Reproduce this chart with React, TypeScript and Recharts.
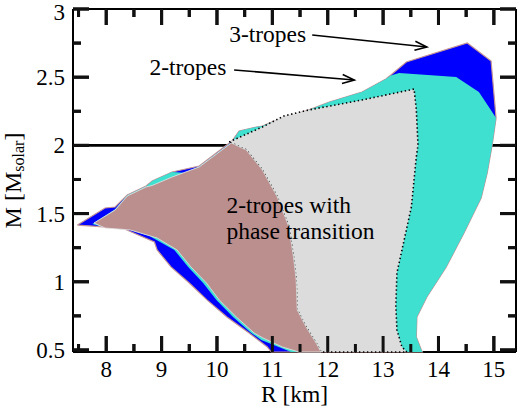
import React from 'react';
import { ComposedChart, Scatter, XAxis, YAxis, ReferenceLine, ReferenceDot } from 'recharts';

type Pt = { r: number; m: number };

// Outer envelope of the 3-tropes region (clockwise from the left tip)
const threeTropes: Pt[] = [
  { r: 7.48, m: 1.416 }, { r: 7.98, m: 1.541 }, { r: 8.16, m: 1.548 }, { r: 8.38, m: 1.637 },
  { r: 8.72, m: 1.702 }, { r: 8.83, m: 1.739 }, { r: 9.19, m: 1.805 }, { r: 9.68, m: 1.849 },
  { r: 10.27, m: 2.032 }, { r: 10.4, m: 2.106 }, { r: 10.71, m: 2.135 }, { r: 10.82, m: 2.142 },
  { r: 11.0, m: 2.172 }, { r: 11.66, m: 2.26 }, { r: 12.03, m: 2.318 }, { r: 12.62, m: 2.391 },
  { r: 13.05, m: 2.487 }, { r: 13.14, m: 2.516 }, { r: 13.42, m: 2.611 }, { r: 14.52, m: 2.751 },
  { r: 14.95, m: 2.619 }, { r: 15.04, m: 2.201 }, { r: 14.97, m: 2.003 }, { r: 14.88, m: 1.798 },
  { r: 14.77, m: 1.614 }, { r: 14.46, m: 1.358 }, { r: 14.14, m: 1.108 }, { r: 13.79, m: 0.889 },
  { r: 13.61, m: 0.742 }, { r: 13.6, m: 0.595 }, { r: 13.69, m: 0.5 }, { r: 13.71, m: 0.485 },
  { r: 10.98, m: 0.485 }, { r: 10.91, m: 0.522 }, { r: 10.58, m: 0.625 }, { r: 10.18, m: 0.742 },
  { r: 9.82, m: 0.867 }, { r: 9.5, m: 0.991 }, { r: 9.17, m: 1.109 }, { r: 8.92, m: 1.233 },
  { r: 8.87, m: 1.292 }, { r: 8.29, m: 1.394 }, { r: 7.48, m: 1.416 },
];

// 2-tropes region
const twoTropes: Pt[] = [
  { r: 7.75, m: 1.424 }, { r: 8.16, m: 1.532 }, { r: 8.38, m: 1.634 }, { r: 8.72, m: 1.7 },
  { r: 8.83, m: 1.739 }, { r: 9.19, m: 1.805 }, { r: 9.4, m: 1.8 }, { r: 9.68, m: 1.846 },
  { r: 10.27, m: 2.025 }, { r: 10.4, m: 2.106 }, { r: 10.71, m: 2.135 }, { r: 10.82, m: 2.142 },
  { r: 11.0, m: 2.172 }, { r: 11.66, m: 2.26 }, { r: 12.03, m: 2.318 }, { r: 12.62, m: 2.391 },
  { r: 13.05, m: 2.487 }, { r: 13.14, m: 2.512 }, { r: 13.29, m: 2.531 }, { r: 14.32, m: 2.501 },
  { r: 14.73, m: 2.391 }, { r: 14.91, m: 2.282 }, { r: 15.04, m: 2.201 }, { r: 14.97, m: 2.003 },
  { r: 14.88, m: 1.798 }, { r: 14.77, m: 1.614 }, { r: 14.46, m: 1.358 }, { r: 14.14, m: 1.108 },
  { r: 13.79, m: 0.889 }, { r: 13.61, m: 0.742 }, { r: 13.6, m: 0.595 }, { r: 13.69, m: 0.5 },
  { r: 13.71, m: 0.485 }, { r: 11.34, m: 0.485 }, { r: 10.8, m: 0.573 }, { r: 10.62, m: 0.625 },
  { r: 10.29, m: 0.742 }, { r: 9.99, m: 0.867 }, { r: 9.75, m: 0.991 }, { r: 9.48, m: 1.109 },
  { r: 9.23, m: 1.233 }, { r: 8.78, m: 1.336 }, { r: 8.38, m: 1.387 }, { r: 7.95, m: 1.402 },
  { r: 7.75, m: 1.424 },
];

// 2-tropes with phase transition (grey, dotted outline)
const phaseGrey: Pt[] = [
  { r: 10.22, m: 2.025 }, { r: 10.82, m: 2.135 }, { r: 11.21, m: 2.216 }, { r: 11.66, m: 2.26 },
  { r: 12.62, m: 2.333 }, { r: 13.56, m: 2.413 }, { r: 13.6, m: 2.26 }, { r: 13.63, m: 2.003 },
  { r: 13.6, m: 1.915 }, { r: 13.51, m: 1.548 }, { r: 13.38, m: 1.306 }, { r: 13.25, m: 1.065 },
  { r: 13.23, m: 0.815 }, { r: 13.25, m: 0.647 }, { r: 13.34, m: 0.522 }, { r: 13.43, m: 0.485 },
  { r: 11.88, m: 0.485 }, { r: 11.79, m: 0.551 }, { r: 11.61, m: 0.669 }, { r: 11.45, m: 0.793 },
  { r: 11.43, m: 1.013 }, { r: 11.39, m: 1.16 }, { r: 11.3, m: 1.402 }, { r: 11.09, m: 1.622 },
  { r: 10.82, m: 1.82 }, { r: 10.53, m: 1.966 }, { r: 10.26, m: 2.018 }, { r: 10.22, m: 2.025 },
];

// 2-tropes with phase transition (brown)
const phaseBrown: Pt[] = [
  { r: 7.78, m: 1.431 }, { r: 8.16, m: 1.526 }, { r: 8.38, m: 1.629 }, { r: 8.72, m: 1.695 },
  { r: 8.83, m: 1.706 }, { r: 9.19, m: 1.768 }, { r: 9.68, m: 1.842 }, { r: 10.26, m: 2.018 },
  { r: 10.53, m: 1.966 }, { r: 10.82, m: 1.82 }, { r: 11.09, m: 1.622 }, { r: 11.3, m: 1.402 },
  { r: 11.39, m: 1.16 }, { r: 11.43, m: 1.013 }, { r: 11.45, m: 0.793 }, { r: 11.61, m: 0.669 },
  { r: 11.79, m: 0.551 }, { r: 11.88, m: 0.485 }, { r: 11.48, m: 0.485 }, { r: 11.18, m: 0.522 },
  { r: 10.83, m: 0.588 }, { r: 10.67, m: 0.625 }, { r: 10.35, m: 0.742 }, { r: 10.04, m: 0.867 },
  { r: 9.81, m: 0.991 }, { r: 9.53, m: 1.109 }, { r: 9.28, m: 1.233 }, { r: 8.92, m: 1.321 },
  { r: 8.43, m: 1.38 }, { r: 7.98, m: 1.394 }, { r: 7.78, m: 1.431 },
];

const xTicks = [7.5, 8, 8.5, 9, 9.5, 10, 10.5, 11, 11.5, 12, 12.5, 13, 13.5, 14, 14.5, 15];
const yTicks = [0.5, 0.75, 1, 1.25, 1.5, 1.75, 2, 2.25, 2.5, 2.75, 3];
const xDomain = [7.4, 15.4];
const yDomain = [0.485, 3];

const arrow3 = [{ x: 11.72, y: 2.809 }, { x: 13.79, y: 2.721 }];
const arrow2 = [{ x: 10.31, y: 2.553 }, { x: 12.48, y: 2.479 }];
const labelAnchors = [
  { text: '3-tropes', r: 10.22, m: 2.758 },
  { text: '2-tropes', r: 8.78, m: 2.516 },
  { text: '2-tropes with', r: 10.17, m: 1.504 },
  { text: 'phase transition', r: 10.17, m: 1.316 },
];
const xMid = (xDomain[0] + xDomain[1]) / 2;
const yMid = (yDomain[0] + yDomain[1]) / 2;

// tick-mark positions on the four sides of the frame (built from the tick lists)
const bottomMarks = xTicks.map((v) => ({ r: v, m: yDomain[0] }));
const topMarks = xTicks.map((v) => ({ r: v, m: yDomain[1] }));
const leftMarks = yTicks.map((v) => ({ r: xDomain[0], m: v }));
const rightMarks = yTicks.map((v) => ({ r: xDomain[1], m: v }));

const FONT = "'Liberation Serif', 'Times New Roman', serif";
const TICK_FS = 23;
const INK = '#000000';
const TICK_INK = '#111111';

const isMajorX = (v: number) => Number.isInteger(v);
const isMajorY = (v: number) => Number.isInteger(Math.round(v * 1000) / 500);

const BottomMark = (p: any) => {
  const len = isMajorX(p.payload.r) ? 16 : 8;
  return <rect x={p.cx - 1.5} y={p.cy - len} width={3} height={len} fill={TICK_INK} />;
};
const TopMark = (p: any) => {
  const len = isMajorX(p.payload.r) ? 16 : 8;
  return <rect x={p.cx - 1.5} y={p.cy} width={3} height={len} fill={TICK_INK} />;
};
const LeftMark = (p: any) => {
  const len = isMajorY(p.payload.m) ? 16 : 8;
  return <rect x={p.cx} y={p.cy - 1.5} width={len} height={3} fill={TICK_INK} />;
};
const RightMark = (p: any) => {
  const len = isMajorY(p.payload.m) ? 16 : 8;
  return <rect x={p.cx - len} y={p.cy - 1.5} width={len} height={3} fill={TICK_INK} />;
};

const xTickShape = (v: number) => (p: any) => {
  const major = isMajorX(v);
  const len = major ? 16 : 8;
  const bottom = Math.max(Number(p.y1), Number(p.y2));
  const top = Math.min(Number(p.y1), Number(p.y2));
  const x = Number(p.x1);
  return (
    <g>
      <rect x={x - 1.5} y={bottom - len} width={3} height={len} fill={TICK_INK} />
      <rect x={x - 1.5} y={top} width={3} height={len} fill={TICK_INK} />
      {major && (
        <text x={x} y={bottom + 25} textAnchor="middle" fontSize={TICK_FS} fontFamily={FONT} fill={INK}>
          {v}
        </text>
      )}
    </g>
  );
};

const yTickShape = (v: number) => (p: any) => {
  const major = isMajorY(v);
  const len = major ? 16 : 8;
  const left = Math.min(Number(p.x1), Number(p.x2));
  const right = Math.max(Number(p.x1), Number(p.x2));
  const y = Number(p.y1);
  return (
    <g>
      <rect x={left} y={y - 1.5} width={len} height={3} fill={TICK_INK} />
      <rect x={right - len} y={y - 1.5} width={len} height={3} fill={TICK_INK} />
      {major && (
        <text x={left - 8} y={Math.max(y + 8, 20)} textAnchor="end" fontSize={TICK_FS} fontFamily={FONT} fill={INK}>
          {v}
        </text>
      )}
    </g>
  );
};

const XTitleShape = (p: any) => {
  const bottom = Math.max(Number(p.y1), Number(p.y2));
  return (
    <text x={Number(p.x1)} y={bottom + 50} textAnchor="middle" fontSize={23.5} fontFamily={FONT} fill={INK}>
      R [km]
    </text>
  );
};
const YTitleShape = (p: any) => {
  const cx = Math.min(Number(p.x1), Number(p.x2)) - 52;
  const cy = Number(p.y1);
  return (
    <text
      x={cx}
      y={cy}
      transform={`rotate(-90 ${cx} ${cy})`}
      textAnchor="middle"
      fontSize={24}
      fontFamily={FONT}
      fill={INK}
    >
      M [M<tspan fontSize={16} dy={3}>solar</tspan>
      <tspan dy={-3}>]</tspan>
    </text>
  );
};

const Nothing = () => <g />;

const ArrowShape = (p: any) => {
  const { x1, y1, x2, y2 } = p;
  const a = Math.atan2(y2 - y1, x2 - x1);
  const L = 12;
  const W = 4.5;
  const bx = x2 - L * Math.cos(a);
  const by = y2 - L * Math.sin(a);
  const d = `M${bx + W * Math.sin(a)},${by - W * Math.cos(a)} L${x2},${y2} L${bx - W * Math.sin(a)},${by + W * Math.cos(a)}`;
  return (
    <g>
      <line x1={x1} y1={y1} x2={x2} y2={y2} stroke={INK} strokeWidth={1.6} />
      <path d={d} fill="none" stroke={INK} strokeWidth={1.6} />
    </g>
  );
};

const makeTextShape = (text: string) => (p: any) => (
  <text x={p.cx} y={p.cy} fontSize={23.5} fontFamily={FONT} fill={INK}>
    {text}
  </text>
);

const frame = { stroke: INK, strokeWidth: 2 };

export default function App() {
  return (
    <div style={{ position: 'absolute', left: 0, top: 0, background: '#fff' }}>
      <ComposedChart width={520} height={407} margin={{ top: 8, right: 3, bottom: 0, left: 0 }}>
        <XAxis
          xAxisId={0}
          type="number"
          dataKey="r"
          domain={xDomain}
          ticks={xTicks}
          height={55}
          tick={false}
          tickLine={false}
          axisLine={frame}
        />
        <XAxis
          xAxisId="top"
          orientation="top"
          type="number"
          dataKey="r"
          domain={xDomain}
          height={1}
          tick={false}
          tickLine={false}
          axisLine={frame}
        />
        <YAxis
          yAxisId={0}
          type="number"
          dataKey="m"
          domain={yDomain}
          ticks={yTicks}
          width={73}
          tick={false}
          tickLine={false}
          axisLine={frame}
        />
        <YAxis
          yAxisId="right"
          orientation="right"
          type="number"
          dataKey="m"
          domain={yDomain}
          width={1}
          tick={false}
          tickLine={false}
          axisLine={frame}
        />
        {xTicks.map((v) => (
          <ReferenceLine key={'x' + v} x={v} shape={xTickShape(v)} ifOverflow="visible" />
        ))}
        {yTicks.map((v) => (
          <ReferenceLine key={'y' + v} y={v} shape={yTickShape(v)} ifOverflow="visible" />
        ))}
        <ReferenceLine x={xMid} shape={XTitleShape} ifOverflow="visible" />
        <ReferenceLine y={yMid} shape={YTitleShape} ifOverflow="visible" />
        <Scatter
          data={threeTropes}
          isAnimationActive={false}
          shape={Nothing}
          fill="#0000ff"
          line={{ fill: '#0000ff', stroke: '#c49494', strokeWidth: 1.2 }}
        />
        <Scatter
          data={twoTropes}
          isAnimationActive={false}
          shape={Nothing}
          fill="#40e0d0"
          line={{ fill: '#40e0d0', stroke: 'none' }}
        />
        <Scatter
          data={phaseGrey}
          isAnimationActive={false}
          shape={Nothing}
          fill="#dcdcdc"
          line={{ fill: '#dcdcdc', stroke: INK, strokeWidth: 1.6, strokeDasharray: '1.4 2.6' }}
        />
        <Scatter
          data={phaseBrown}
          isAnimationActive={false}
          shape={Nothing}
          fill="#bc8f8f"
          line={{ fill: '#bc8f8f', stroke: '#e4e4e4', strokeWidth: 0.8 }}
        />
        <Scatter data={bottomMarks} isAnimationActive={false} shape={BottomMark} fill={TICK_INK} />
        <Scatter data={topMarks} isAnimationActive={false} shape={TopMark} fill={TICK_INK} />
        <Scatter data={leftMarks} isAnimationActive={false} shape={LeftMark} fill={TICK_INK} />
        <Scatter data={rightMarks} isAnimationActive={false} shape={RightMark} fill={TICK_INK} />
        <ReferenceLine y={2} stroke={INK} strokeWidth={2.6} />
        <ReferenceLine segment={arrow3} shape={ArrowShape} ifOverflow="visible" />
        <ReferenceLine segment={arrow2} shape={ArrowShape} ifOverflow="visible" />
        {labelAnchors.map((l) => (
          <ReferenceDot key={l.text} x={l.r} y={l.m} r={0} shape={makeTextShape(l.text)} ifOverflow="visible" />
        ))}
      </ComposedChart>
    </div>
  );
}
